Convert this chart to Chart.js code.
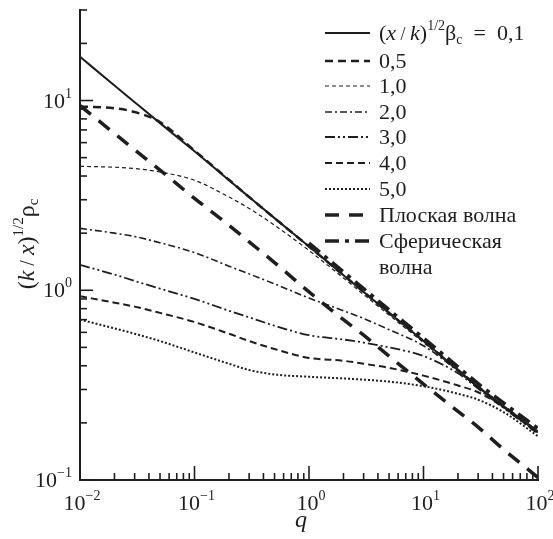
<!DOCTYPE html>
<html>
<head>
<meta charset="utf-8">
<script src="https://cdn.jsdelivr.net/npm/chart.js@4/dist/chart.umd.min.js"></script>
<style>
  html, body { margin: 0; padding: 0; background: #fff; }
  #wrap { width: 553px; height: 539px; }
</style>
</head>
<body>
<div id="wrap"><canvas id="chart"></canvas></div>
<script>
// q values shared by all curves
const qValues = [0.01, 0.02, 0.03, 0.05, 0.1, 0.2, 0.3, 0.5, 1, 2, 3, 5, 10, 20, 30, 50, 100];

// (k/x)^1/2 rho_c, one list per curve
const beta01 = [17.0, 12.0, 9.8, 7.6, 5.4, 3.8, 3.1, 2.4, 1.7, 1.2, 0.98, 0.76, 0.54, 0.38, 0.31, 0.245, 0.18];
const beta05 = [9.3, 9.1, 8.7, 7.7, 5.45, 3.82, 3.1, 2.4, 1.7, 1.2, 0.98, 0.76, 0.54, 0.38, 0.31, 0.245, 0.18];
const beta10 = [4.5, 4.45, 4.38, 4.2, 3.8, 3.1, 2.7, 2.2, 1.62, 1.16, 0.95, 0.74, 0.53, 0.375, 0.305, 0.24, 0.177];
const beta20 = [2.12, 2.0, 1.92, 1.78, 1.58, 1.34, 1.22, 1.08, 0.91, 0.78, 0.71, 0.62, 0.51, 0.375, 0.308, 0.243, 0.178];
const beta30 = [1.36, 1.21, 1.12, 1.02, 0.9, 0.78, 0.72, 0.65, 0.58, 0.55, 0.53, 0.5, 0.45, 0.365, 0.303, 0.24, 0.176];
const beta40 = [0.93, 0.86, 0.82, 0.76, 0.68, 0.59, 0.54, 0.49, 0.44, 0.425, 0.41, 0.39, 0.355, 0.315, 0.29, 0.242, 0.175];
const beta50 = [0.70, 0.63, 0.59, 0.54, 0.47, 0.41, 0.38, 0.36, 0.35, 0.343, 0.338, 0.33, 0.312, 0.285, 0.265, 0.228, 0.17];
const planeWave = [9.4, 6.7, 5.5, 4.3, 3.05, 2.2, 1.8, 1.4, 0.98, 0.7, 0.58, 0.45, 0.32, 0.23, 0.19, 0.145, 0.103];
const sphericalWave = [null, null, null, null, null, null, null, null, 1.77, 1.25, 1.02, 0.79, 0.56, 0.395, 0.322, 0.255, 0.187];

const seriesLabels = ['0,1', '0,5', '1,0', '2,0', '3,0', '4,0', '5,0', 'Плоская волна', 'Сферическая'];
const xTickExps = [-2, -1, 0, 1, 2];
const yTickExps = [-1, 0, 1];

const serif = '"Liberation Serif", "DejaVu Serif", serif';
const ink = '#1e1e1e';

function pts(arr) {
  return qValues.map((q, i) => ({ x: q, y: arr[i] }));
}

function line(label, arr, dash, width) {
  return {
    label,
    data: pts(arr),
    borderColor: ink,
    borderWidth: width,
    borderDash: dash,
    borderCapStyle: 'butt',
    pointRadius: 0,
    fill: false,
    cubicInterpolationMode: 'monotone'
  };
}

const datasets = [
  line(seriesLabels[0], beta01, [], 2),
  line(seriesLabels[1], beta05, [8, 5], 2.5),
  line(seriesLabels[2], beta10, [4, 3], 1.2),
  line(seriesLabels[3], beta20, [7, 3, 2, 3], 1.6),
  line(seriesLabels[4], beta30, [10, 3, 2, 3, 2, 3], 1.8),
  line(seriesLabels[5], beta40, [7, 4], 2),
  line(seriesLabels[6], beta50, [2, 2], 2),
  line(seriesLabels[7], planeWave, [14, 10], 3.5),
  line(seriesLabels[8], sphericalWave, [14, 6, 4, 6], 3.5)
];

function fontOf(p) {
  return (p.italic ? 'italic ' : '') + p.size + 'px ' + serif;
}

// draw a row of text pieces (for superscripts / subscripts)
function drawRich(ctx, parts, x, y, align) {
  let w = 0;
  parts.forEach(p => { ctx.font = fontOf(p); p.w = ctx.measureText(p.t).width; w += p.w; });
  let cx = align === 'right' ? x - w : align === 'center' ? x - w / 2 : x;
  parts.forEach(p => {
    ctx.font = fontOf(p);
    ctx.fillText(p.t, cx, y + (p.dy || 0));
    cx += p.w;
  });
}

function powerLabel(e) {
  const exp = e < 0 ? '\u2212' + Math.abs(e) : String(e);
  return [{ t: '10', size: 22 }, { t: exp, size: 14, dy: -10 }];
}

const decorPlugin = {
  id: 'decor',
  afterDraw(chart) {
    const ctx = chart.ctx;
    const xs = chart.scales.x, ys = chart.scales.y;
    const area = chart.chartArea;
    ctx.save();
    ctx.fillStyle = ink;
    ctx.strokeStyle = ink;
    ctx.textBaseline = 'alphabetic';

    // inward tick marks
    ctx.lineWidth = 1.6;
    ctx.setLineDash([]);
    for (let e = -2; e < 2; e++) {
      for (let m = 1; m <= 9; m++) {
        const v = m * Math.pow(10, e);
        const px = xs.getPixelForValue(v);
        const len = m === 1 ? 14 : 7;
        ctx.beginPath(); ctx.moveTo(px, area.bottom); ctx.lineTo(px, area.bottom - len); ctx.stroke();
      }
    }
    const pxEnd = xs.getPixelForValue(100);
    ctx.beginPath(); ctx.moveTo(pxEnd, area.bottom); ctx.lineTo(pxEnd, area.bottom - 14); ctx.stroke();
    for (let e = -1; e <= 1; e++) {
      for (let m = 1; m <= 9; m++) {
        const v = m * Math.pow(10, e);
        if (v > ys.max + 1e-9) break;
        const py = ys.getPixelForValue(v);
        const len = m === 1 ? 13 : 7;
        ctx.beginPath(); ctx.moveTo(area.left, py); ctx.lineTo(area.left + len, py); ctx.stroke();
      }
    }

    // tick labels
    xTickExps.forEach(e => {
      drawRich(ctx, powerLabel(e), xs.getPixelForValue(Math.pow(10, e)) + 2, area.bottom + 30, 'center');
    });
    yTickExps.forEach(e => {
      drawRich(ctx, powerLabel(e), area.left - 8, ys.getPixelForValue(Math.pow(10, e)) + 7, 'right');
    });

    // axis titles
    drawRich(ctx, [{ t: 'q', size: 24, italic: true }], (area.left + area.right) / 2 - 8, 527, 'center');
    ctx.save();
    ctx.translate(34, 244);
    ctx.rotate(-Math.PI / 2);
    drawRich(ctx, [
      { t: '(', size: 24 }, { t: 'k', size: 24, italic: true }, { t: ' / ', size: 20 },
      { t: 'x', size: 24, italic: true }, { t: ')', size: 24 },
      { t: '1/2', size: 15, dy: -11 }, { t: 'ρ', size: 24 }, { t: 'c', size: 15, dy: 4 }
    ], 0, 0, 'center');
    ctx.restore();

    // legend inside the plot
    const x0 = 325, x1 = 370, tx = 379;
    const rowY = [33, 61, 86, 112, 137, 163, 189, 215, 241];
    chart.data.datasets.forEach((ds, i) => {
      const y = rowY[i];
      ctx.lineWidth = ds.borderWidth;
      ctx.setLineDash(ds.borderDash);
      ctx.beginPath(); ctx.moveTo(x0, y); ctx.lineTo(x1, y); ctx.stroke();
      ctx.setLineDash([]);
      let parts;
      if (i === 0) {
        parts = [
          { t: '(', size: 22 }, { t: 'x', size: 22, italic: true }, { t: ' / ', size: 18 },
          { t: 'k', size: 22, italic: true }, { t: ')', size: 22 },
          { t: '1/2', size: 14, dy: -10 }, { t: 'β', size: 22 }, { t: 'c', size: 14, dy: 4 },
          { t: '  =  ' + ds.label, size: 22 }
        ];
      } else {
        parts = [{ t: ds.label, size: 22 }];
      }
      drawRich(ctx, parts, tx, y + 7, 'left');
    });
    drawRich(ctx, [{ t: 'волна', size: 22 }], tx, 267 + 7, 'left');

    ctx.restore();
  }
};

new Chart(document.getElementById('chart'), {
  type: 'line',
  data: { datasets },
  options: {
    responsive: true,
    maintainAspectRatio: false,
    animation: false,
    layout: { padding: { left: 80, right: 15, top: 10, bottom: 59 } },
    plugins: { legend: { display: false }, tooltip: { enabled: false } },
    scales: {
      x: {
        type: 'logarithmic',
        min: 0.01,
        max: 100,
        ticks: { display: false },
        grid: { display: false, drawTicks: false },
        border: { display: true, color: ink, width: 2 }
      },
      y: {
        type: 'logarithmic',
        min: 0.1,
        max: 30,
        ticks: { display: false },
        grid: { display: false, drawTicks: false },
        border: { display: true, color: ink, width: 2 }
      }
    }
  },
  plugins: [decorPlugin]
});
</script>
</body>
</html>
